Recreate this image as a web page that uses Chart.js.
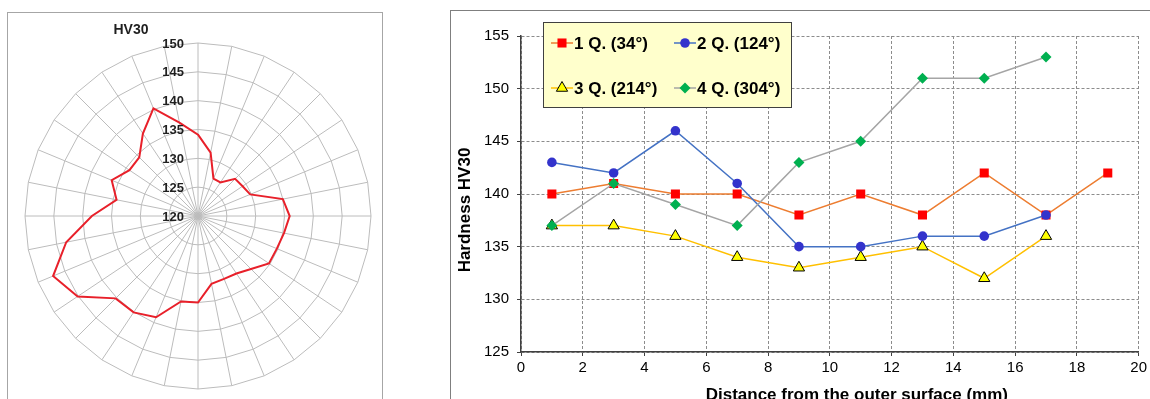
<!DOCTYPE html>
<html>
<head>
<meta charset="utf-8">
<script src="https://cdn.jsdelivr.net/npm/chart.js@4.4.1/dist/chart.umd.min.js"></script>
<style>
  html, body { margin: 0; padding: 0; background: #fff; }
  body { width: 1150px; height: 399px; position: relative; overflow: hidden; }
  #polarBox { position: absolute; left: 7px; top: 12px; width: 374px; height: 420px; border: 1px solid #a6a6a6; }
  #lineBox { position: absolute; left: 450px; top: 10px; width: 760px; height: 420px; border-left: 1px solid #7f7f7f; border-top: 1px solid #7f7f7f; }
  #polarChart { position: absolute; left: 8px; top: 13px; }
  #lineChart { position: absolute; left: 451px; top: 11px; }
</style>
</head>
<body>
<div id="polarBox"></div>
<div id="lineBox"></div>
<canvas id="polarChart" width="373" height="386"></canvas>
<canvas id="lineChart" width="699" height="388"></canvas>
<script>
// polar plot: 32 measuring directions, clockwise from top
const radarAngles = ['0°', '11.25°', '22.5°', '33.75°', '45°', '56.25°', '67.5°', '78.75°',
    '90°', '101.25°', '112.5°', '123.75°', '135°', '146.25°', '157.5°', '168.75°',
    '180°', '191.25°', '202.5°', '213.75°', '225°', '236.25°', '247.5°', '258.75°',
    '270°', '281.25°', '292.5°', '303.75°', '315°', '326.25°', '337.5°', '348.75°'];
const hv30Polar = [134.1, 131.2, 127.0, 127.0, 129.1, 129.3, 129.8, 135.0,
    135.9, 135.2, 134.8, 134.8, 133.0, 132.0, 131.8, 132.0,
    135.0, 135.1, 139.0, 140.1, 140.2, 145.1, 147.2, 143.3,
    138.4, 134.4, 136.2, 134.3, 134.4, 137.2, 140.2, 136.5];

// hardness profiles
const distanceMm = [1, 3, 5, 7, 9, 11, 13, 15, 17, 19];
const q1Hardness = [140, 141, 140, 140, 138, 140, 138, 142, 138, 142];
const q2Hardness = [143, 142, 146, 141, 135, 135, 136, 136, 138];
const q3Hardness = [137, 137, 136, 134, 133, 134, 135, 132, 136];
const q4Hardness = [137, 141, 139, 137, 143, 145, 151, 151, 153];
const seriesNames = ['1 Q. (34°)', '2 Q. (124°)', '3 Q. (214°)', '4 Q. (304°)'];

const FONT = '"Liberation Sans", Arial, sans-serif';

function toPoints(values) {
    return values.map((v, i) => ({ x: distanceMm[i], y: v }));
}

const radarText = {
    id: 'radarText',
    afterDraw(chart) {
        const s = chart.scales.r;
        const ctx = chart.ctx;
        ctx.save();
        ctx.fillStyle = '#1f1f1f';
        ctx.font = 'bold 13px ' + FONT;
        ctx.textAlign = 'right';
        ctx.textBaseline = 'middle';
        s.ticks.forEach(t => {
            const d = s.getDistanceFromCenterForValue(t.value);
            ctx.fillText(t.label, s.xCenter - 14, s.yCenter - d + 1);
        });
        ctx.font = 'bold 14px ' + FONT;
        ctx.textAlign = 'center';
        ctx.fillText('HV30', s.xCenter - 67, s.yCenter - 186);
        ctx.restore();
    }
};

new Chart(document.getElementById('polarChart').getContext('2d'), {
    type: 'radar',
    data: {
        labels: radarAngles,
        datasets: [{
            data: hv30Polar,
            borderColor: '#e8202a',
            borderWidth: 2,
            pointRadius: 0,
            fill: false,
            tension: 0
        }]
    },
    options: {
        responsive: false,
        animation: false,
        layout: { padding: { left: 17, right: 10, top: 30, bottom: 10 } },
        plugins: { legend: { display: false }, tooltip: { enabled: false } },
        scales: {
            r: {
                min: 120,
                max: 150,
                ticks: { stepSize: 5, display: false },
                grid: { color: '#bcbcbc', lineWidth: 1 },
                angleLines: { color: '#bcbcbc', lineWidth: 1 },
                pointLabels: { display: false }
            }
        }
    },
    plugins: [radarText]
});

// legend box + axis titles drawn over the plot
const lineExtras = {
    id: 'lineExtras',
    afterDraw(chart) {
        const ctx = chart.ctx;
        const a = chart.chartArea;
        const H = Chart.helpers;
        ctx.save();

        // legend
        const bx = a.left + 22, by = a.top - 14, bw = 248, bh = 85;
        ctx.fillStyle = '#ffffcc';
        ctx.fillRect(bx, by, bw, bh);
        ctx.strokeStyle = '#404040';
        ctx.lineWidth = 1;
        ctx.strokeRect(bx + 0.5, by + 0.5, bw, bh);
        const slots = [[19, 21], [142, 21], [19, 66], [142, 66]];
        ctx.font = 'bold 17px ' + FONT;
        ctx.textBaseline = 'middle';
        ctx.textAlign = 'left';
        chart.data.datasets.forEach((ds, i) => {
            const mx = bx + slots[i][0], my = by + slots[i][1];
            ctx.strokeStyle = ds.borderColor;
            ctx.lineWidth = ds.borderWidth;
            ctx.beginPath();
            ctx.moveTo(mx - 11, my);
            ctx.lineTo(mx + 11, my);
            ctx.stroke();
            ctx.fillStyle = ds.pointBackgroundColor;
            ctx.strokeStyle = ds.pointBorderColor;
            ctx.lineWidth = ds.pointBorderWidth;
            H.drawPoint(ctx, { pointStyle: ds.pointStyle, radius: ds.pointRadius, rotation: 0, borderWidth: ds.pointBorderWidth }, mx, my);
            ctx.fillStyle = '#000';
            ctx.fillText(ds.label, mx + 12, my + 1);
        });

        // axis titles
        ctx.fillStyle = '#000';
        ctx.font = 'bold 17px ' + FONT;
        ctx.textAlign = 'center';
        ctx.fillText('Distance from the outer surface (mm)', (a.left + a.right) / 2 + 27, a.bottom + 43);
        ctx.translate(a.left - 56, (a.top + a.bottom) / 2 + 16);
        ctx.rotate(-Math.PI / 2);
        ctx.fillText('Hardness HV30', 0, 0);
        ctx.restore();
    }
};

new Chart(document.getElementById('lineChart').getContext('2d'), {
    type: 'line',
    data: {
        datasets: [
            {
                label: seriesNames[0], data: toPoints(q1Hardness), order: 4,
                borderColor: '#ed7d31', borderWidth: 1.5,
                pointStyle: 'rect', pointRadius: 6.4,
                pointBackgroundColor: '#ff0000', pointBorderColor: '#ff0000', pointBorderWidth: 0
            },
            {
                label: seriesNames[1], data: toPoints(q2Hardness), order: 2,
                borderColor: '#4472c4', borderWidth: 1.5,
                pointStyle: 'circle', pointRadius: 4.8,
                pointBackgroundColor: '#3333cc', pointBorderColor: '#3333cc', pointBorderWidth: 0
            },
            {
                label: seriesNames[2], data: toPoints(q3Hardness), order: 3,
                borderColor: '#ffc000', borderWidth: 1.5,
                pointStyle: 'triangle', pointRadius: 6.5,
                pointBackgroundColor: '#ffff00', pointBorderColor: '#000000', pointBorderWidth: 1
            },
            {
                label: seriesNames[3], data: toPoints(q4Hardness), order: 1,
                borderColor: '#a5a5a5', borderWidth: 1.5,
                pointStyle: 'rectRot', pointRadius: 5.5,
                pointBackgroundColor: '#00b050', pointBorderColor: '#00b050', pointBorderWidth: 0
            }
        ]
    },
    options: {
        responsive: false,
        animation: false,
        layout: { padding: { left: 10, right: 8, top: 25, bottom: 9 } },
        plugins: { legend: { display: false }, tooltip: { enabled: false } },
        scales: {
            x: {
                type: 'linear', min: 0, max: 20,
                ticks: { stepSize: 2, color: '#000', font: { family: FONT, size: 15 }, padding: 3 },
                grid: { color: '#8c8c8c', tickLength: 4, tickColor: '#404040' },
                border: { color: '#404040', width: 1.5, dash: [3, 2] },
                afterFit(scale) { scale.height = 38; }
            },
            y: {
                min: 125, max: 155,
                ticks: { stepSize: 5, color: '#000', font: { family: FONT, size: 15 }, padding: 8 },
                grid: { color: '#8c8c8c', tickLength: 4, tickColor: '#404040' },
                border: { color: '#404040', width: 1.5, dash: [3, 2] },
                afterFit(scale) { scale.width = 60; }
            }
        }
    },
    plugins: [lineExtras]
});
</script>
</body>
</html>
